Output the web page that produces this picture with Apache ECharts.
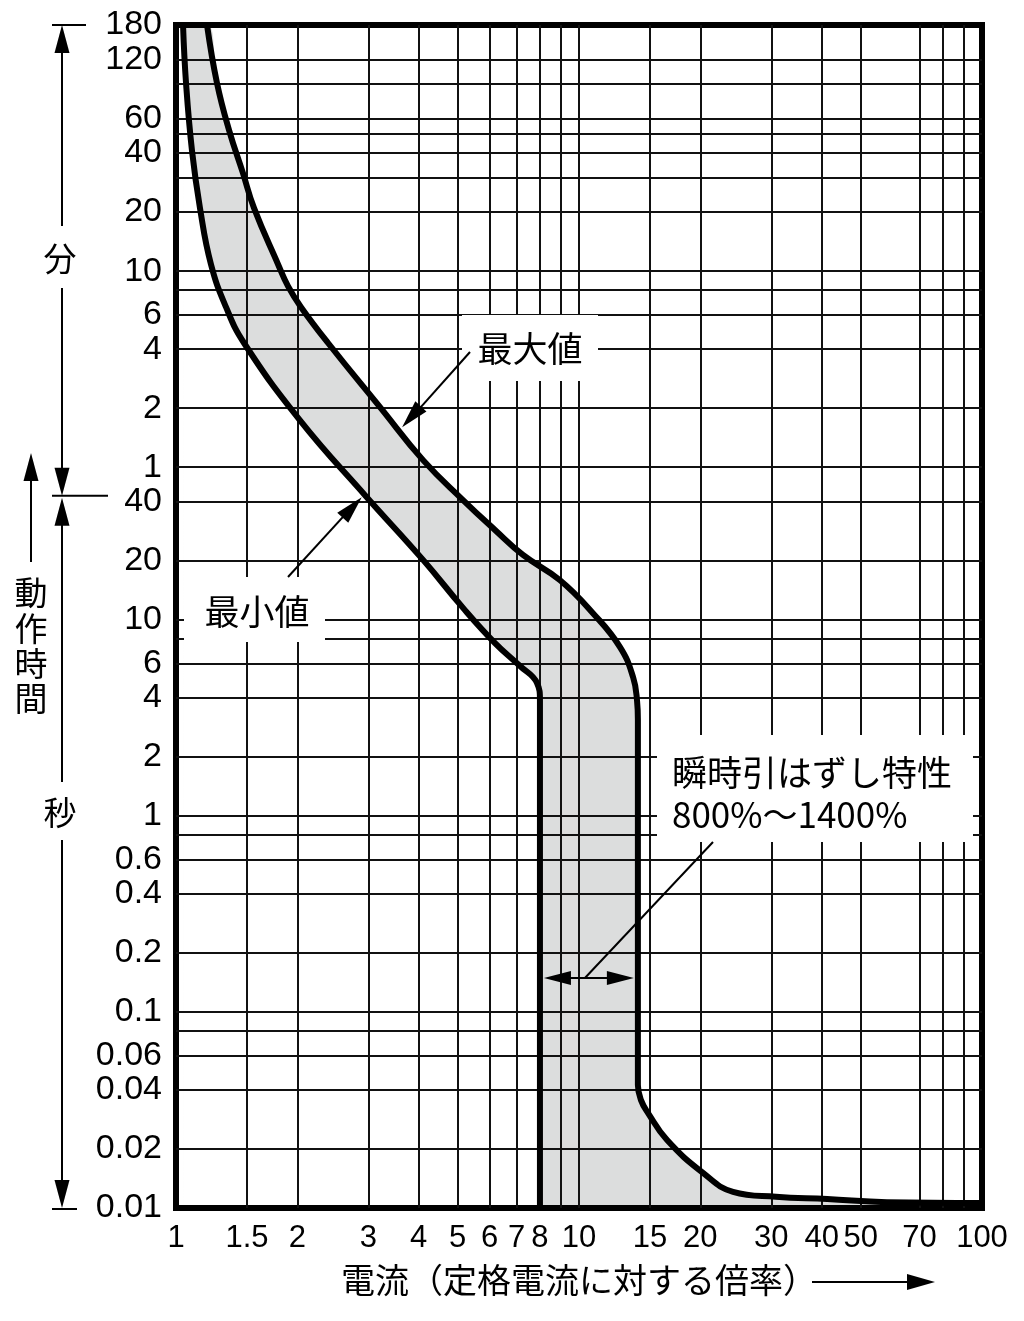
<!DOCTYPE html>
<html>
<head>
<meta charset="utf-8">
<script src="https://cdn.jsdelivr.net/npm/echarts@6/dist/echarts.min.js"></script>
<style>
  html, body { margin: 0; padding: 0; background: #fff; }
  #chart { width: 1024px; height: 1321px; }
</style>
</head>
<body>
<div id="chart"></div>
<script>
// 電流（定格電流に対する倍率） vs 動作時間 [s]
const maxCurrent = [1.194, 1.264, 1.354, 1.466, 1.562, 1.791, 1.896, 2.043, 2.384, 3.208, 4.103, 5.155, 6.188, 7.261, 8.973, 10.83, 12.64, 13.62, 13.93, 14, 14, 14.25, 14.84, 16.54, 20.31, 24.11, 30.8, 41.3, 58.1, 100]
const maxTime = [10800, 5457, 3143, 1896, 1257, 651, 503, 393, 258, 121.5, 65.2, 40.8, 28.7, 21.4, 15.9, 10.8, 7.26, 5.1, 3.89, 3.08, 0.0424, 0.0355, 0.0305, 0.0222, 0.0151, 0.0121, 0.0114, 0.0111, 0.0107, 0.0106]

const minCurrent = [1.041, 1.059, 1.096, 1.147, 1.221, 1.331, 1.475, 2.031, 2.944, 4.103, 5.155, 6.188, 7.139, 7.866, 8.0, 8.0]
const minTime = [10800, 5457, 2455, 1257, 651, 393, 258, 104, 43.2, 20.2, 11.5, 7.61, 5.81, 4.76, 3.89, 0.01]

// axis labels and grid lines
const xLabels = [1, 1.5, 2, 3, 4, 5, 6, 7, 8, 10, 15, 20, 30, 40, 50, 70, 100]
const xGrid = [1.5, 2, 3, 4, 5, 6, 7, 8, 9, 10, 15, 20, 30, 40, 50, 70, 80, 90]
const secLabels = [0.01, 0.02, 0.04, 0.06, 0.1, 0.2, 0.4, 0.6, 1, 2, 4, 6, 10, 20, 40]
const minLabels = [1, 2, 4, 6, 10, 20, 40, 60, 120, 180]
const secGrid = [0.02, 0.04, 0.06, 0.08, 0.1, 0.2, 0.4, 0.6, 0.8, 1, 2, 4, 6, 8, 10, 20, 40]
const minGrid = [1, 2, 4, 6, 8, 10, 20, 30, 40, 50, 60, 90, 120]

// where the annotation arrows point, in chart units
const maxArrowTip = [3.64, 96]
const minArrowTip = [2.89, 42.2]
const tripBand = [8, 14, 0.149]

const numFont = '"Liberation Sans", Arial, sans-serif'
const jpFont = '"Noto Sans CJK JP", "Noto Sans", sans-serif'
const ink = '#000'
const bandGray = '#dcdddd'
const SMOOTH = 0.45

const maxData = maxCurrent.map((x, i) => [x, maxTime[i]])
const minData = minCurrent.map((x, i) => [x, minTime[i]])
// band outline starts where the lower curve meets the top edge
const bandData = [[minCurrent[0], maxTime[0]]].concat(maxData)
const yLabelValues = secLabels.concat(minLabels.map((m) => m * 60))
const yGridValues = secGrid.concat(minGrid.map((m) => m * 60))

function fmt(v) {
  return String(+v.toPrecision(6))
}

// annotation helpers (pixel space)
function seg(x1, y1, x2, y2, w) {
  return { type: 'line', z: 20, shape: { x1, y1, x2, y2 }, style: { stroke: ink, lineWidth: w || 2 } }
}
function head(tx, ty, fx, fy, len, half) {
  len = len || 28
  half = half || 7.5
  const dx = tx - fx, dy = ty - fy, d = Math.hypot(dx, dy)
  const ux = dx / d, uy = dy / d
  const bx = tx - ux * len, by = ty - uy * len
  return {
    type: 'polygon', z: 21,
    shape: { points: [[tx, ty], [bx - uy * half, by + ux * half], [bx + uy * half, by - ux * half]] },
    style: { fill: ink }
  }
}
function label(text, x, y, size, align) {
  return {
    type: 'text', z: 22,
    style: { text, x, y, font: size + 'px ' + jpFont, fill: ink, align: align || 'center', verticalAlign: 'middle' }
  }
}
function box(x, y, w, h) {
  return { type: 'rect', z: 19, shape: { x, y, width: w, height: h }, style: { fill: '#fff' } }
}

const chart = echarts.init(document.getElementById('chart'))

chart.setOption({
  animation: false,
  backgroundColor: '#fff',
  grid: {
    left: 176,
    right: 42,
    top: 25,
    bottom: 113,
    show: true,
    borderColor: ink,
    borderWidth: 6,
    containLabel: false,
    outerBoundsMode: 'none'
  },
  xAxis: {
    type: 'log',
    logBase: 10,
    min: 1,
    max: 100,
    name: '電流（定格電流に対する倍率）',
    nameLocation: 'middle',
    nameGap: 55,
    nameTextStyle: { fontFamily: jpFont, fontSize: 34, color: ink },
    axisLine: { show: false },
    axisTick: { show: false, customValues: xGrid },
    axisLabel: {
      customValues: xLabels,
      hideOverlap: false,
      formatter: (v) => fmt(v),
      fontFamily: numFont,
      fontSize: 31,
      color: ink,
      margin: 15
    },
    splitLine: { show: true, lineStyle: { color: '#111', width: 2 } }
  },
  yAxis: {
    type: 'log',
    logBase: 10,
    min: 0.01,
    max: 10800.01,
    axisLine: { show: false },
    axisTick: { show: false, customValues: yGridValues },
    axisLabel: {
      customValues: yLabelValues,
      hideOverlap: false,
      formatter: (v) => (v >= 60 ? fmt(v / 60) : fmt(v)),
      fontFamily: numFont,
      fontSize: 34,
      color: ink,
      margin: 14
    },
    splitLine: { show: true, lineStyle: { color: '#111', width: 2 } }
  },
  series: [
    {
      name: 'band',
      type: 'line',
      data: bandData,
      symbol: 'none',
      smooth: SMOOTH,
      silent: true,
      z: -2,
      lineStyle: { width: 0, opacity: 0 },
      areaStyle: { color: bandGray, opacity: 1, origin: 'start' }
    },
    {
      name: 'bandCut',
      type: 'line',
      data: minData,
      symbol: 'none',
      smooth: SMOOTH,
      silent: true,
      z: -1,
      lineStyle: { width: 0, opacity: 0 },
      areaStyle: { color: '#fff', opacity: 1, origin: 'start' }
    },
    {
      name: '最大値',
      type: 'line',
      data: maxData,
      symbol: 'none',
      smooth: SMOOTH,
      z: 3,
      lineStyle: { color: ink, width: 6 }
    },
    {
      name: '最小値',
      type: 'line',
      data: minData,
      symbol: 'none',
      smooth: SMOOTH,
      z: 3,
      lineStyle: { color: ink, width: 6 }
    }
  ]
})

// annotations, anchored to the axes where they point at data
const px = (x, y) => chart.convertToPixel({ xAxisIndex: 0, yAxisIndex: 0 }, [x, y])
const yTop = px(1, 10800)[1]
const yDiv = px(1, 40)[1] - 6
const yBot = px(1, 0.01)[1]
const tMax = px(maxArrowTip[0], maxArrowTip[1])
const tMin = px(minArrowTip[0], minArrowTip[1])
const bL = px(tripBand[0], tripBand[2])
const bR = px(tripBand[1], tripBand[2])
const bY = bL[1]

const annotations = [
  // 分 bracket
  seg(52, yTop, 86, yTop),
  head(62, yTop, 62, yTop + 80),
  seg(62, yTop + 25, 62, 226),
  label('分', 60, 258, 33),
  seg(62, 288, 62, yDiv - 22),
  head(62, yDiv, 62, yDiv - 80),
  seg(52, yDiv, 108, yDiv),
  // 秒 bracket
  head(62, yDiv + 2, 62, yDiv + 100),
  seg(62, yDiv + 22, 62, 782),
  label('秒', 60, 812, 33),
  seg(62, 840, 62, yBot - 22),
  head(62, yBot, 62, yBot - 100),
  seg(52, yBot + 1, 77, yBot + 1),
  // 動作時間
  head(31, 453, 31, 560),
  seg(31, 478, 31, 562),
  label('動', 31, 592, 33),
  label('作', 31, 628, 33),
  label('時', 31, 663, 33),
  label('間', 31, 698, 33),
  // 最大値
  box(462, 315, 136, 66),
  label('最大値', 530, 349, 35),
  seg(470, 352, tMax[0] + 8, tMax[1] - 8),
  head(tMax[0], tMax[1], 470, 352),
  // 最小値
  box(184, 577, 141, 65),
  label('最小値', 257, 612, 35),
  seg(288, 577, tMin[0] - 8, tMin[1] + 8),
  head(tMin[0], tMin[1], 288, 577),
  // 瞬時引はずし特性
  box(657, 735, 316, 107),
  label('瞬時引はずし特性', 672, 773, 35, 'left'),
  label('800%〜1400%', 672, 815, 35, 'left'),
  seg(713, 842, (bL[0] + bR[0]) / 2 - 4, bY),
  seg(bL[0] + 20, bY, bR[0] - 20, bY),
  head(bL[0] + 4, bY, bL[0] + 60, bY, 27, 7),
  head(bR[0] - 4, bY, bR[0] - 60, bY, 27, 7),
  // x axis title arrow
  seg(812, 1282, 910, 1282),
  head(935, 1282, 850, 1282, 28, 8)
]

chart.setOption({ graphic: annotations })
</script>
</body>
</html>
